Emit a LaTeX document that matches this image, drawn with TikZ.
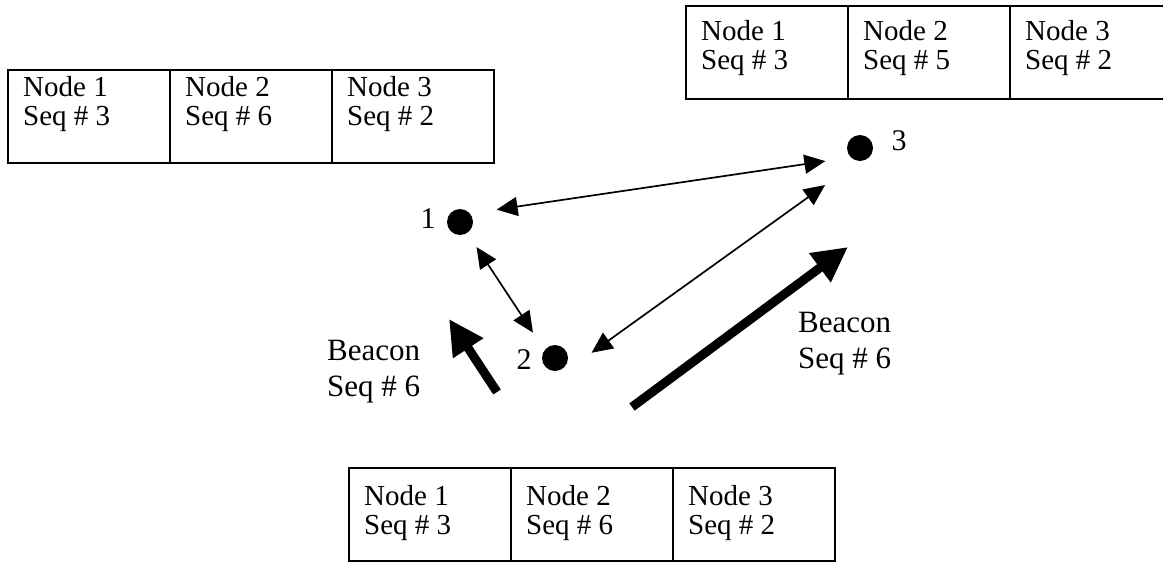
\documentclass[tikz,border=0pt]{standalone}
\usepackage{fontspec}
\setmainfont{Liberation Serif}
\usetikzlibrary{arrows.meta}
\begin{document}
\begin{tikzpicture}[x=1pt,y=-1pt,
  cell/.style={draw,line width=1.6pt,minimum width=162pt,minimum height=93pt,inner sep=0pt,outer sep=0pt,anchor=north west},
  celltext/.style={anchor=north west,inner sep=0pt,align=left,font=\fontsize{29}{29}\selectfont},
  dot/.style={circle,fill=black,minimum size=26pt,inner sep=0pt},
  num/.style={inner sep=0pt,font=\fontsize{30}{30}\selectfont},
  beacontext/.style={anchor=north west,inner sep=0pt,align=left,font=\fontsize{31}{36}\selectfont},
  link/.style={{Triangle[length=21pt,width=19pt]}-{Triangle[length=21pt,width=19pt]},line width=1.7pt},
  beacon/.style={-{Triangle[length=35pt,width=34pt]},line width=9pt}]
\useasboundingbox (0,0) rectangle (1163,563);
\clip (0,0) rectangle (1163,563);
%sequence tables
\foreach \tab/\x/\y/\dy/\sa/\sb/\sc in {A/8/70/6/3/6/2,B/349/468/17/3/6/2,C/686/6/14/3/5/2}{
  \foreach \i/\s in {1/\sa,2/\sb,3/\sc}{
    \node[cell] (\tab\i) at ({\x+162*(\i-1)},\y) {};
    \node[celltext] (txt\tab\i) at ([xshift=15,yshift=-\dy]\tab\i.north west) {Node \i\\Seq \# \s};
  }
}
%nodes
\node[dot] (n1) at (460,222) {};
\node[dot] (n2) at (555,358) {};
\node[dot] (n3) at (860,148) {};
\node[num] (l1) at (428,219) {1};
\node[num] (l2) at (524,360) {2};
\node[num] (l3) at (899,141) {3};
%links
\draw[link,shorten <=37pt,shorten >=35pt]([yshift=7]n1.center)--([yshift=-8]n3.center);
\draw[link,shorten <=30pt,shorten >=40pt](n1.center)--([yshift=-8]n2.center);
\draw[link,shorten <=45pt,shorten >=43pt]([yshift=-21]n2.center)--([yshift=-12]n3.center);
%beacons
\coordinate (bl0) at (497,392);
\coordinate (bl1) at (449,319);
\coordinate (br0) at (632,407);
\coordinate (br1) at (848,247);
\draw[beacon](bl0)--(bl1);
\draw[beacon](br0)--(br1);
\node[beacontext] (bL) at (327,340) {Beacon\\Seq \# 6};
\node[beacontext] (bR) at (798,312) {Beacon\\Seq \# 6};
\end{tikzpicture}
\end{document}
